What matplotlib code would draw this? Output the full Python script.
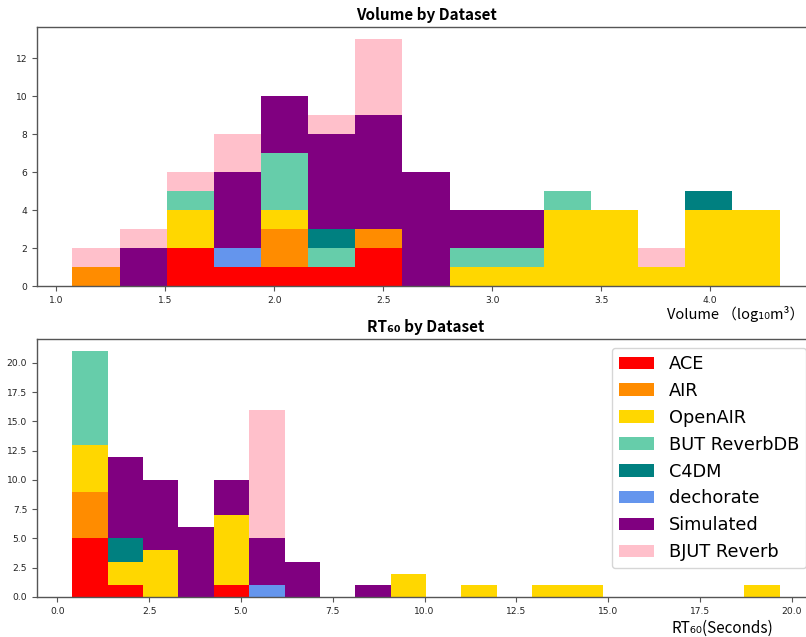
import numpy as np
import matplotlib
matplotlib.use("Agg")
import matplotlib.pyplot as plt

datasets = ["ACE", "AIR", "OpenAIR", "BUT ReverbDB", "C4DM", "dechorate", "Simulated", "BJUT Reverb"]
colors = ["red", "darkorange", "gold", "mediumaquamarine", "teal", "cornflowerblue", "purple", "pink"]

# Volume histogram (log10 m^3): 15 bins
vol_lo, vol_hi, vol_nbins = 1.075, 4.318, 15
vol_ace       = [0, 0, 2, 1, 1, 1, 2, 0, 0, 0, 0, 0, 0, 0, 0]
vol_air       = [1, 0, 0, 0, 2, 0, 1, 0, 0, 0, 0, 0, 0, 0, 0]
vol_openair   = [0, 0, 2, 0, 1, 0, 0, 0, 1, 1, 4, 4, 1, 4, 4]
vol_but       = [0, 0, 1, 0, 3, 1, 0, 0, 1, 1, 1, 0, 0, 0, 0]
vol_c4dm      = [0, 0, 0, 0, 0, 1, 0, 0, 0, 0, 0, 0, 0, 1, 0]
vol_dechorate = [0, 0, 0, 1, 0, 0, 0, 0, 0, 0, 0, 0, 0, 0, 0]
vol_simulated = [0, 2, 0, 4, 3, 5, 6, 6, 2, 2, 0, 0, 0, 0, 0]
vol_bjut      = [1, 1, 1, 2, 0, 1, 4, 0, 0, 0, 0, 0, 1, 0, 0]

# RT60 histogram (seconds): 20 bins
rt_lo, rt_hi, rt_nbins = 0.41, 19.67, 20
rt_ace       = [5, 1, 0, 0, 1, 0, 0, 0, 0, 0, 0, 0, 0, 0, 0, 0, 0, 0, 0, 0]
rt_air       = [4, 0, 0, 0, 0, 0, 0, 0, 0, 0, 0, 0, 0, 0, 0, 0, 0, 0, 0, 0]
rt_openair   = [4, 2, 4, 0, 6, 0, 0, 0, 0, 2, 0, 1, 0, 1, 1, 0, 0, 0, 0, 1]
rt_but       = [8, 0, 0, 0, 0, 0, 0, 0, 0, 0, 0, 0, 0, 0, 0, 0, 0, 0, 0, 0]
rt_c4dm      = [0, 2, 0, 0, 0, 0, 0, 0, 0, 0, 0, 0, 0, 0, 0, 0, 0, 0, 0, 0]
rt_dechorate = [0, 0, 0, 0, 0, 1, 0, 0, 0, 0, 0, 0, 0, 0, 0, 0, 0, 0, 0, 0]
rt_simulated = [0, 7, 6, 6, 3, 4, 3, 0, 1, 0, 0, 0, 0, 0, 0, 0, 0, 0, 0, 0]
rt_bjut      = [0, 0, 0, 0, 0, 11, 0, 0, 0, 0, 0, 0, 0, 0, 0, 0, 0, 0, 0, 0]

vol_counts = [vol_ace, vol_air, vol_openair, vol_but, vol_c4dm, vol_dechorate, vol_simulated, vol_bjut]
rt_counts = [rt_ace, rt_air, rt_openair, rt_but, rt_c4dm, rt_dechorate, rt_simulated, rt_bjut]

cjk = ["Noto Sans CJK SC", "DejaVu Sans"]

fig = plt.figure(figsize=(8.06, 6.37), dpi=100)
W, H = 806.0, 637.0
ax1 = fig.add_axes([37 / W, 1 - 286 / H, 778 / W, 259 / H])
ax2 = fig.add_axes([37 / W, 1 - 597 / H, 778 / W, 258 / H])


def stacked_hist(ax, lo, hi, n, counts):
    edges = np.linspace(lo, hi, n + 1)
    centers = (edges[:-1] + edges[1:]) / 2
    xs = [centers for _ in counts]
    ws = [np.asarray(c, dtype=float) for c in counts]
    ax.hist(xs, bins=edges, weights=ws, stacked=True, color=colors,
            label=datasets, histtype="bar", linewidth=0)


stacked_hist(ax1, vol_lo, vol_hi, vol_nbins, vol_counts)
stacked_hist(ax2, rt_lo, rt_hi, rt_nbins, rt_counts)

for ax in (ax1, ax2):
    for s in ax.spines.values():
        s.set_color("#555555")
        s.set_linewidth(1.0)
    ax.tick_params(labelsize=6.6, length=3.5, width=0.8, color="#555555", labelcolor="#222222")

ax1.set_yticks([0, 2, 4, 6, 8, 10, 12])
ax1.set_xticks([1.0, 1.5, 2.0, 2.5, 3.0, 3.5, 4.0])
ax2.set_xticks([0.0, 2.5, 5.0, 7.5, 10.0, 12.5, 15.0, 17.5, 20.0])
ax2.set_yticks([0.0, 2.5, 5.0, 7.5, 10.0, 12.5, 15.0, 17.5, 20.0])

ax1.set_title("Volume by Dataset", fontsize=11, fontweight="bold", family=cjk, pad=5)
ax2.set_title("RT₆₀ by Dataset", fontsize=11, fontweight="bold", family=cjk, pad=5)

ax1.set_xlabel("Volume （log₁₀m³）", fontsize=10.5, family=cjk, va="center")
ax1.xaxis.set_label_coords((735.5 - 37) / 778, (286 - 314) / 259)
ax2.set_xlabel("RT₆₀(Seconds)", fontsize=11, family=cjk, va="center")
ax2.xaxis.set_label_coords((722.5 - 37) / 778, (597 - 628) / 258)

ax2.legend(loc="upper right", fontsize=12.8, framealpha=0.8, edgecolor="#cccccc")

fig.savefig("out.png", dpi=100)
